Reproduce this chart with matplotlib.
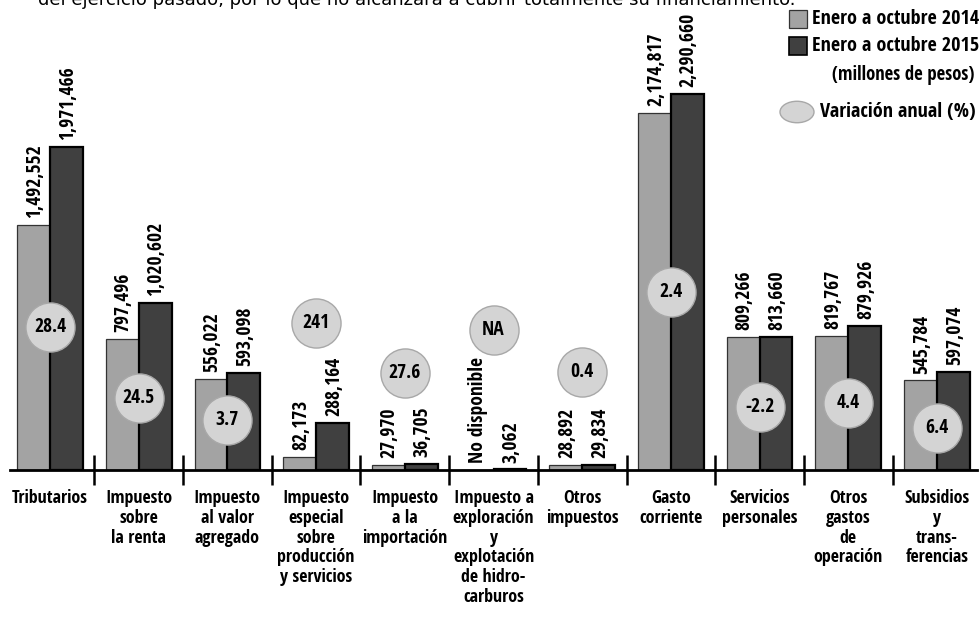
import matplotlib.pyplot as plt
import matplotlib.font_manager as fm
from matplotlib.patches import Rectangle, Circle
import numpy as np

# buscar una fuente angosta instalada
angosta = None
estiramiento = 'normal'
for nombre in ['Liberation Sans Narrow', 'DejaVu Sans Condensed', 'Noto Sans Condensed',
               'Open Sans Condensed', 'Roboto Condensed', 'Noto Sans', 'DejaVu Sans']:
    for f in fm.fontManager.ttflist:
        if f.name == nombre:
            angosta = nombre
            break
    if angosta:
        break
# si la familia tiene variantes condensadas con el mismo nombre
for f in fm.fontManager.ttflist:
    if f.name == angosta and 'condensed' in str(f.stretch):
        estiramiento = 'condensed'
        break

plt.rcParams['font.family'] = [angosta, 'DejaVu Sans']
plt.rcParams['font.stretch'] = estiramiento

categorias = ['Tributarios', 'Impuesto\nsobre\nla renta', 'Impuesto\nal valor\nagregado',
              'Impuesto\nespecial\nsobre\nproducción\ny servicios', 'Impuesto\na la\nimportación',
              'Impuesto a\nexploración\ny\nexplotación\nde hidro-\ncarburos', 'Otros\nimpuestos',
              'Gasto\ncorriente', 'Servicios\npersonales', 'Otros\ngastos\nde\noperación',
              'Subsidios\ny\ntrans-\nferencias']
# millones de pesos, enero a octubre
valores_2014 = [1492552, 797496, 556022, 82173, 27970, np.nan, 28892, 2174817, 809266, 819767, 545784]
valores_2015 = [1971466, 1020602, 593098, 288164, 36705, 3062, 29834, 2290660, 813660, 879926, 597074]
etiquetas_2014 = ['1,492,552', '797,496', '556,022', '82,173', '27,970', 'No disponible',
                  '28,892', '2,174,817', '809,266', '819,767', '545,784']
etiquetas_2015 = ['1,971,466', '1,020,602', '593,098', '288,164', '36,705', '3,062',
                  '29,834', '2,290,660', '813,660', '879,926', '597,074']
variacion = ['28.4', '24.5', '3.7', '241', '27.6', 'NA', '0.4', '2.4', '-2.2', '4.4', '6.4']
# altura (en pesos) donde se pone el circulo de variacion
altura_circulo = [872000, 439000, 305000, 896000, 591000, 854000, 598000, 1085000, 384000, 409000, 256000]

W, H = 980, 619
fig = plt.figure(figsize=(9.8, 6.19), dpi=100)
ax = fig.add_axes([10 / W, 149 / H, 967 / W, 470 / H])

x = np.arange(len(categorias))
ancho = 0.37
ax.bar(x - ancho / 2, np.nan_to_num(valores_2014), ancho, color='#a3a3a3', edgecolor='#333333', linewidth=0.9)
ax.bar(x + ancho / 2, valores_2015, ancho, color='#404040', edgecolor='black', linewidth=1.6)

for i in range(len(categorias)):
    v14 = 0 if np.isnan(valores_2014[i]) else valores_2014[i]
    ax.annotate(etiquetas_2014[i], (x[i] - ancho / 2, v14), xytext=(1, 5), textcoords='offset points',
                rotation=90, ha='center', va='bottom', fontsize=14, fontweight='bold', annotation_clip=False)
    ax.annotate(etiquetas_2015[i], (x[i] + ancho / 2, valores_2015[i]), xytext=(1, 5), textcoords='offset points',
                rotation=90, ha='center', va='bottom', fontsize=14, fontweight='bold', annotation_clip=False)

ax.scatter(x, altura_circulo, s=1250, color='#d4d4d4', edgecolor='#a8a8a8', linewidth=1, zorder=3)
for i in range(len(categorias)):
    ax.text(x[i], altura_circulo[i], variacion[i], ha='center', va='center', fontsize=14,
            fontweight='bold', zorder=4)

ax.set_xlim(-40 / 88.7, 927 / 88.7)
ax.set_ylim(0, 470 / 164 * 1e6)
for s in ['top', 'right', 'left']:
    ax.spines[s].set_visible(False)
ax.spines['bottom'].set_linewidth(2)
ax.set_yticks([])
ax.set_xticks(x[:-1] + 0.5)
ax.set_xticklabels([])
ax.tick_params(axis='x', direction='inout', length=22, width=1.8)

for i, c in enumerate(categorias):
    ax.annotate(c, (x[i], 0), xytext=(0, -14), textcoords='offset points', ha='center', va='top',
                fontsize=13, linespacing=1.12, annotation_clip=False)

# leyenda
fig.patches.append(Rectangle((789 / W, 1 - 28 / H), 18 / W, 18 / H, transform=fig.transFigure,
                             facecolor='#a3a3a3', edgecolor='#333333', linewidth=0.9))
fig.patches.append(Rectangle((789 / W, 1 - 55 / H), 18 / W, 18 / H, transform=fig.transFigure,
                             facecolor='#404040', edgecolor='black', linewidth=1.2))
fig.patches.append(Circle((797 / W, 1 - 112 / H), 17 / W, transform=fig.transFigure,
                          facecolor='#d4d4d4', edgecolor='#a8a8a8'))
fig.text(812 / W, 1 - 19 / H, 'Enero a octubre 2014', fontsize=14.5, fontweight='bold', va='center')
fig.text(812 / W, 1 - 46 / H, 'Enero a octubre 2015', fontsize=14.5, fontweight='bold', va='center')
fig.text(903 / W, 1 - 75 / H, '(millones de pesos)', fontsize=13.5, ha='center', va='center')
fig.text(820 / W, 1 - 112 / H, 'Variación anual (%)', fontsize=14.5, fontweight='bold', va='center')

fig.text(38 / W, 1.0, 'del ejercicio pasado, por lo que no alcanzará a cubrir totalmente su financiamiento.',
         fontsize=13, va='center', family='DejaVu Sans', fontstretch='normal')

fig.savefig('out.png', dpi=100)
